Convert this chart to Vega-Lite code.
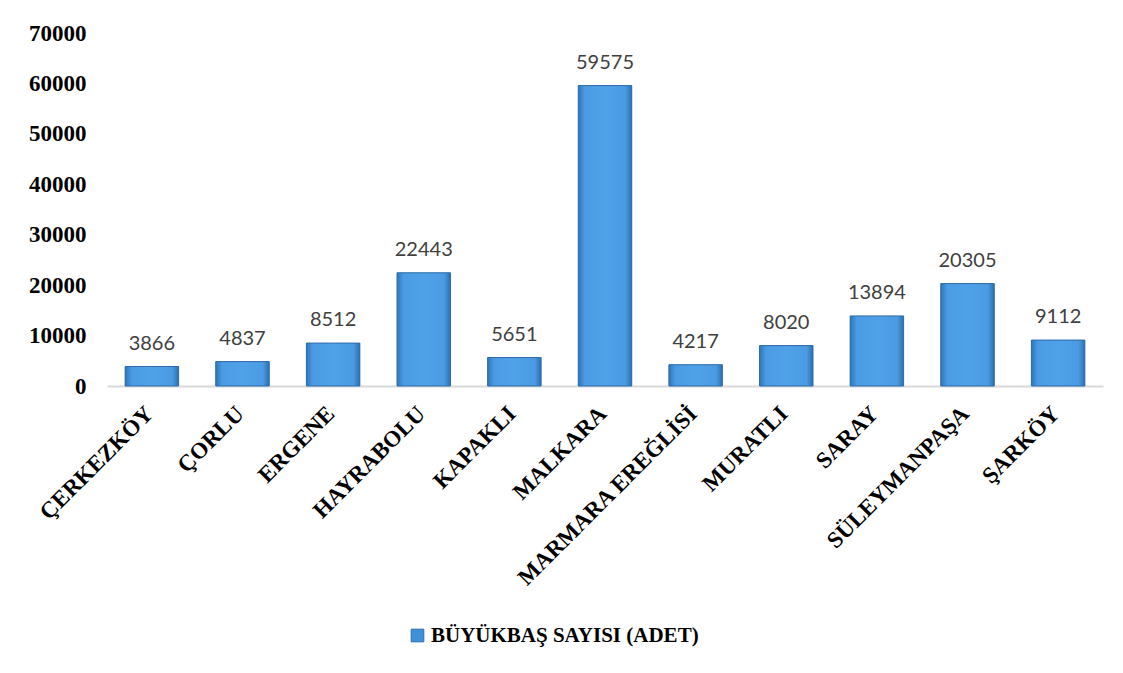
{
  "$schema": "https://vega.github.io/schema/vega-lite/v6.json",
  "width": 996,
  "height": 353,
  "autosize": "none",
  "padding": {"left": 107, "top": 33, "right": 20, "bottom": 287},
  "background": "white",
  "config": {"view": {"stroke": null}},
  "data": {
    "values": [
      {"ilce": "ÇERKEZKÖY", "sayi": 3866},
      {"ilce": "ÇORLU", "sayi": 4837},
      {"ilce": "ERGENE", "sayi": 8512},
      {"ilce": "HAYRABOLU", "sayi": 22443},
      {"ilce": "KAPAKLI", "sayi": 5651},
      {"ilce": "MALKARA", "sayi": 59575},
      {"ilce": "MARMARA EREĞLİSİ", "sayi": 4217},
      {"ilce": "MURATLI", "sayi": 8020},
      {"ilce": "SARAY", "sayi": 13894},
      {"ilce": "SÜLEYMANPAŞA", "sayi": 20305},
      {"ilce": "ŞARKÖY", "sayi": 9112}
    ]
  },
  "encoding": {
    "x": {
      "field": "ilce",
      "type": "nominal",
      "sort": null,
      "title": null,
      "scale": {"paddingInner": 0.41, "paddingOuter": 0.2},
      "axis": {
        "labelAngle": -45,
        "labelFont": "Liberation Serif",
        "labelFontWeight": "bold",
        "labelFontSize": 23,
        "labelColor": "#000000",
        "labelLimit": 0,
        "labelPadding": 16,
        "labelOffset": -10,
        "ticks": false,
        "domainColor": "#d9d9d9",
        "domainWidth": 2
      }
    },
    "y": {
      "field": "sayi",
      "type": "quantitative",
      "title": null,
      "scale": {"domain": [0, 70000]},
      "axis": {
        "values": [0, 10000, 20000, 30000, 40000, 50000, 60000, 70000],
        "format": "d",
        "labelFont": "Liberation Serif",
        "labelFontWeight": "bold",
        "labelFontSize": 23,
        "labelColor": "#000000",
        "labelPadding": 21,
        "ticks": false,
        "domain": false,
        "grid": false
      }
    }
  },
  "layer": [
    {
      "mark": {"type": "bar"},
      "encoding": {
        "color": {
          "datum": "BÜYÜKBAŞ SAYISI (ADET)",
          "type": "nominal",
          "scale": {"range": ["#3f8fd9"]},
          "legend": {
            "title": null,
            "orient": "none",
            "legendX": 300,
            "legendY": 592,
            "symbolType": "square",
            "symbolSize": 160,
            "symbolStrokeColor": "#2e6eb0",
            "symbolStrokeWidth": 1,
            "labelFont": "Liberation Serif",
            "labelFontWeight": "bold",
            "labelFontSize": 21,
            "labelColor": "#000000",
            "labelOffset": 3,
            "labelLimit": 0
          }
        }
      }
    },
    {
      "mark": {
        "type": "bar",
        "stroke": "#2f6dab",
        "strokeWidth": 1,
        "color": {
          "gradient": "linear",
          "x1": 0, "y1": 0, "x2": 1, "y2": 0,
          "stops": [
            {"offset": 0, "color": "#3174b8"},
            {"offset": 0.12, "color": "#4a9be3"},
            {"offset": 0.5, "color": "#4fa1e8"},
            {"offset": 0.88, "color": "#4a9be3"},
            {"offset": 1, "color": "#2f6eae"}
          ]
        }
      }
    },
    {
      "mark": {
        "type": "text",
        "baseline": "bottom",
        "dy": -13,
        "font": "Lato",
        "fontSize": 20,
        "color": "#404040"
      },
      "encoding": {"text": {"field": "sayi", "type": "quantitative", "format": "d"}}
    }
  ]
}
